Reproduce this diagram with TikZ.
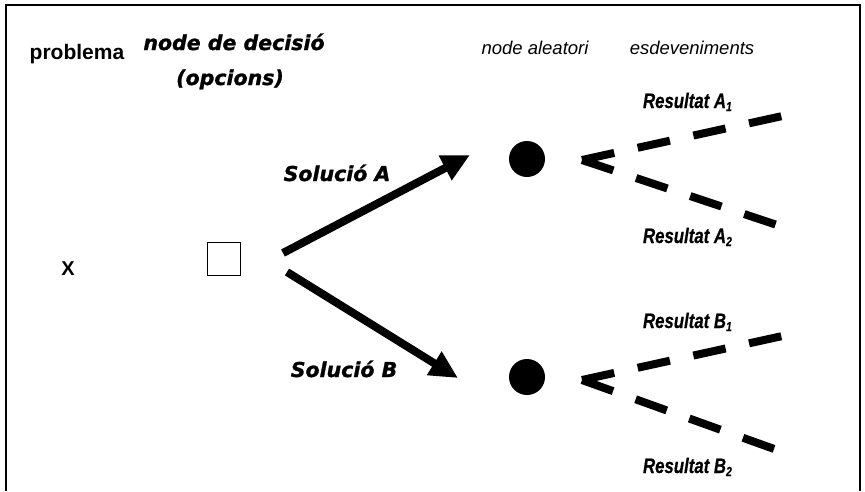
\documentclass[tikz,border=0pt]{standalone}
\usepackage{fontspec}
\usepackage{graphicx}
\setmainfont{Liberation Sans}
\newfontfamily\heavy[FakeBold=1.2]{DejaVu Sans Bold Oblique}
\newfontfamily\resfont[FakeBold=0.6]{Liberation Sans Bold Italic}
\usetikzlibrary{arrows.meta}
\tikzset{
  lbl/.style={inner sep=0pt, outer sep=0pt},
  headbold/.style={lbl, font=\fontsize{21}{21}\selectfont\bfseries},
  headit/.style={lbl, font=\fontsize{18.5}{18.5}\selectfont\itshape},
  heavytxt/.style={lbl, font=\fontsize{20.5}{20.5}\selectfont\heavy},
  restxt/.style={lbl, anchor=base west, font=\fontsize{21}{21}\selectfont\resfont},
  choice/.style={line width=8pt, -{Triangle[length=28pt,width=26pt]}},
  outcome/.style={line width=8pt, dash pattern=on 33pt off 24pt},
  chance/.style={circle, fill=black, minimum size=36pt, inner sep=0pt},
  decision/.style={draw, line width=0.8pt, minimum size=33pt, inner sep=0pt},
}
\newcommand{\res}[2]{\scalebox{0.8}[1]{Resultat #1\raisebox{-3pt}{\fontsize{13}{13}\selectfont #2}}}
\begin{document}
\begin{tikzpicture}[x=1pt,y=-1pt]
\useasboundingbox (0,0) rectangle (865,491);
\draw[line width=2.5pt] (6,491) -- (6,5) -- (860,5) -- (860,491);

\node[headbold, anchor=base] (prob) at (77,59) {problema};
\node[heavytxt, anchor=base] (nd) at (234,50) {node de decisió};
\node[heavytxt, anchor=base] (op) at (230,85) {(opcions)};
\node[headit, anchor=base] (na) at (535,54) {node aleatori};
\node[headit, anchor=base] (es) at (692,54) {esdeveniments};

\node[headbold, font=\fontsize{20}{20}\selectfont\bfseries, anchor=base] (x) at (68,275) {X};
\node[decision] (sq) at (223.5,259) {};

\coordinate (a0) at (283,253);
\coordinate (a1) at (470,155);
\coordinate (b0) at (287,272);
\coordinate (b1) at (458,378);
\draw[choice] (a0) -- (a1);
\draw[choice] (b0) -- (b1);
\node[heavytxt, anchor=base] (sa) at (337,181) {Solució A};
\node[heavytxt, anchor=base] (sb) at (344,377) {Solució B};

\node[chance] (ca) at (527,159) {};
\node[chance] (cb) at (527,377) {};

\coordinate (va) at (582,160);
\coordinate (va1) at (787,115);
\coordinate (va2) at (777,225);
\coordinate (vb) at (582,380);
\coordinate (vb1) at (787,335);
\coordinate (vb2) at (777,450);
\draw[outcome] (va) -- (va1);
\draw[outcome] (va) -- (va2);
\draw[outcome] (vb) -- (vb1);
\draw[outcome] (vb) -- (vb2);

\node[restxt] (ra1) at (643,108) {\res{A}{1}};
\node[restxt] (ra2) at (643,243) {\res{A}{2}};
\node[restxt] (rb1) at (643,328) {\res{B}{1}};
\node[restxt] (rb2) at (643,473) {\res{B}{2}};
\end{tikzpicture}
\end{document}
